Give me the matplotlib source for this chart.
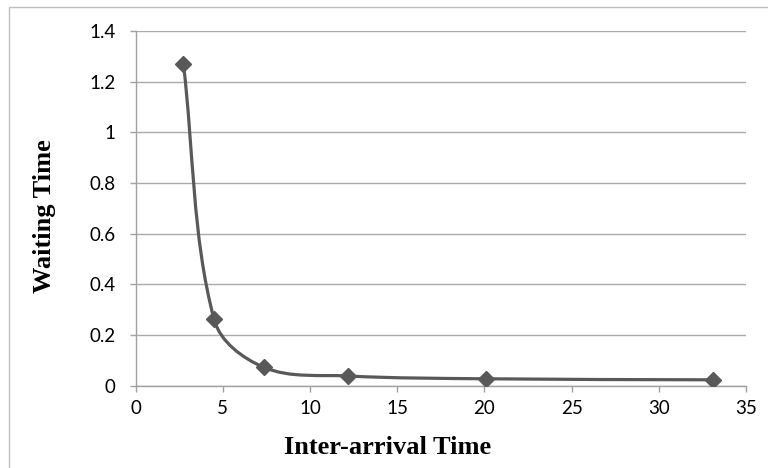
import numpy as np
import matplotlib.pyplot as plt
from matplotlib.path import Path
from matplotlib.patches import PathPatch, Rectangle

inter_arrival = [2.74, 4.5, 7.36, 12.2, 20.07, 33.12]
waiting = [1.27, 0.261, 0.072, 0.038, 0.027, 0.023]

x_ticks = [0, 5, 10, 15, 20, 25, 30, 35]
y_ticks = [0, 0.2, 0.4, 0.6, 0.8, 1, 1.2, 1.4]
y_tick_labels = ["0", "0.2", "0.4", "0.6", "0.8", "1", "1.2", "1.4"]

LINE = "#595959"
GRID = "#aaaaaa"
AXIS = "#a0a0a0"


def smooth_path(ax, xs, ys):
    # Excel-style smoothed line, worked out in screen space:
    # tangent along the neighbours, handle length a third of the segment
    pts = ax.transData.transform(np.column_stack([xs, ys]))
    n = len(pts)
    verts = [pts[0]]
    codes = [Path.MOVETO]

    def tangent(i):
        a = pts[max(i - 1, 0)]
        b = pts[min(i + 1, n - 1)]
        d = b - a
        return d / np.hypot(*d)

    for i in range(n - 1):
        p1, p2 = pts[i], pts[i + 1]
        seg = np.hypot(*(p2 - p1)) / 3
        verts += [p1 + tangent(i) * seg, p2 - tangent(i + 1) * seg, p2]
        codes += [Path.CURVE4] * 3
    verts = ax.transData.inverted().transform(np.array(verts))
    return Path(verts, codes)


fig = plt.figure(figsize=(7.68, 4.68), dpi=100)
ax = fig.add_axes([0.1766, 0.176, 0.9714 - 0.1766, 0.934 - 0.176])

ax.set_xlim(0, 35)
ax.set_ylim(0, 1.4)
ax.set_xticks(x_ticks)
ax.set_yticks(y_ticks)
ax.set_yticklabels(y_tick_labels)

ax.add_patch(PathPatch(smooth_path(ax, inter_arrival, waiting), fill=False,
                       edgecolor=LINE, linewidth=2.3, zorder=3))
ax.plot(inter_arrival, waiting, linestyle="none", marker="D", markersize=8.5,
        color=LINE, zorder=4)

ax.yaxis.grid(True, color=GRID, linewidth=1)
ax.set_axisbelow(True)
for side in ["top", "right"]:
    ax.spines[side].set_visible(False)
for side in ["left", "bottom"]:
    ax.spines[side].set_color(AXIS)
    ax.spines[side].set_linewidth(1)

ax.tick_params(axis="both", direction="out", length=4.5, width=1,
               color=AXIS, labelsize=13.5, labelcolor="black")
ax.tick_params(axis="y", pad=10)
ax.tick_params(axis="x", pad=6)
for lab in ax.get_xticklabels() + ax.get_yticklabels():
    lab.set_family("Lato")

fig.text(388 / 768, 1 - 453.7 / 468, "Inter-arrival Time",
         family="Liberation Serif", fontweight="bold", fontsize=19,
         ha="center", va="baseline")
fig.text(51 / 768, 1 - 216 / 468, "Waiting Time",
         family="Liberation Serif", fontweight="bold", fontsize=19,
         rotation=90, rotation_mode="anchor", ha="center", va="baseline")

# chart area border (runs off the right and bottom edges)
fig.patches.append(Rectangle((9 / 768, -0.05), 1.1, 1 - 7 / 468 + 0.05,
                             transform=fig.transFigure, fill=False,
                             edgecolor="#c0c0c0", linewidth=1))

fig.savefig("out.png", dpi=100)
